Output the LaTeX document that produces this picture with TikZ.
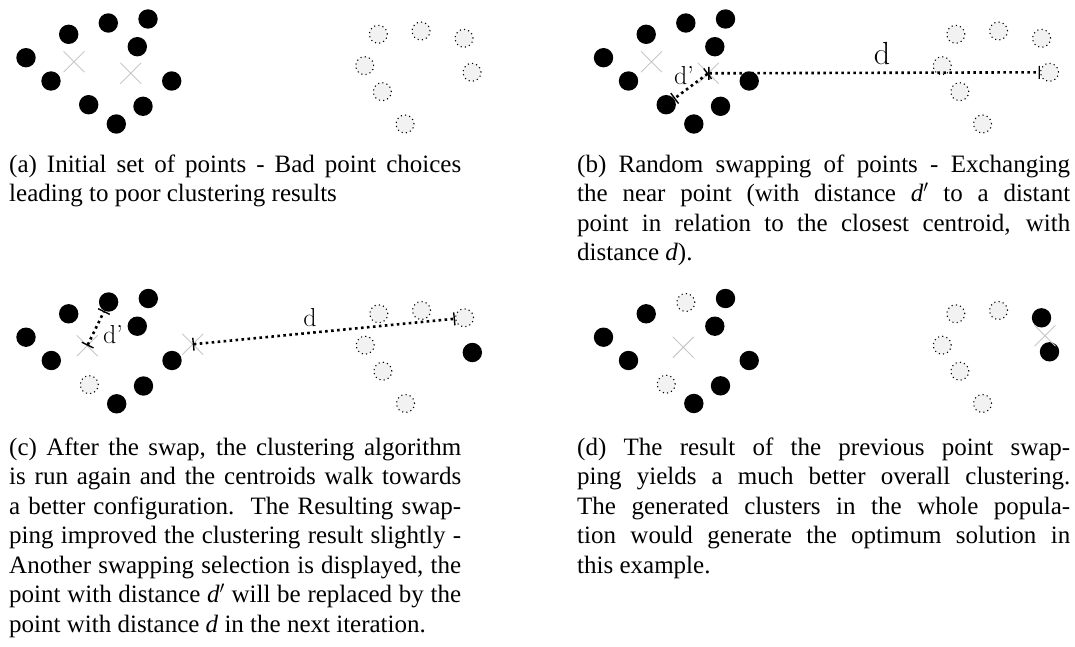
\documentclass[tikz,border=0pt]{standalone}
\usepackage{fontspec}
\newfontfamily\capfont{Liberation Serif}
\usetikzlibrary{arrows.meta,shapes.misc}
\begin{document}
\begin{tikzpicture}[x=1pt,y=-1pt,
  bdot/.style={circle,fill=black,minimum size=19.4pt,inner sep=0pt},
  gdot/.style={circle,fill=black!5,draw=black,line width=1.1pt,dash pattern=on 1.1pt off 3.2pt,minimum size=18pt,inner sep=0pt},
  cent/.style={cross out,draw=black!22,line width=0.9pt,minimum size=20pt,inner sep=0pt},
  dist/.style={line width=2.6pt,dash pattern=on 2.6pt off 3.4pt,{Bar[width=13pt,line width=1.4pt]}-{Bar[width=13pt,line width=1.4pt]}},
  lbl/.style={font=\fontsize{26}{26}\selectfont,inner sep=0pt},
  capbox/.style={anchor=base west,inner sep=0pt,align=justify,font=\capfont\fontsize{25}{29.5}\selectfont}
]
\useasboundingbox (0,0) rectangle (1075,647);
% ---------- panel (a)
\node[bdot] (a1) at (26,57.7) {};
\node[bdot] (a2) at (68.7,34.3) {};
\node[bdot] (a3) at (108.3,23) {};
\node[bdot] (a4) at (148,19) {};
\node[bdot] (a5) at (137.3,46.7) {};
\node[bdot] (a6) at (51,81) {};
\node[bdot] (a7) at (171.7,81) {};
\node[bdot] (a8) at (88.7,104.7) {};
\node[bdot] (a9) at (143,106.3) {};
\node[bdot] (a10) at (116.3,124) {};
\node[gdot] (ar1) at (378.3,34.3) {};
\node[gdot] (ar2) at (421,31) {};
\node[gdot] (ar3) at (464,38.3) {};
\node[gdot] (ar4) at (364.7,65.7) {};
\node[gdot] (ar5) at (472,72.3) {};
\node[gdot] (ar6) at (382.3,91.7) {};
\node[gdot] (ar7) at (405,124) {};
\node[cent] (ac1) at (74,61.7) {};
\node[cent] (ac2) at (130.7,73.3) {};
% ---------- panel (b)
\node[bdot] (b1) at (603.5,57.7) {};
\node[bdot] (b2) at (646.2,34.3) {};
\node[bdot] (b3) at (685.8,23) {};
\node[bdot] (b4) at (725.5,19) {};
\node[bdot] (b5) at (714.8,46.7) {};
\node[bdot] (b6) at (628.5,81) {};
\node[bdot] (b7) at (749.2,81) {};
\node[bdot] (b8) at (666.2,104.7) {};
\node[bdot] (b9) at (720.5,106.3) {};
\node[bdot] (b10) at (693.8,124) {};
\node[gdot] (br1) at (955.8,34.3) {};
\node[gdot] (br2) at (998.5,31) {};
\node[gdot] (br3) at (1041.5,38.3) {};
\node[gdot] (br4) at (942.2,65.7) {};
\node[gdot] (br5) at (1049.5,72.3) {};
\node[gdot] (br6) at (959.8,91.7) {};
\node[gdot] (br7) at (982.5,124) {};
\node[cent] (bc1) at (651.5,61.7) {};
\node[cent] (bc2) at (708.2,73.3) {};
\draw[dist] (bc2.center) -- (b8);
\draw[dist] (bc2.center) -- (br5);
\node[lbl] (bdp) at (684,76) {d'};
\node[lbl,font=\fontsize{32}{32}\selectfont] (bd) at (882,53.5) {d};
% ---------- panel (c)
\node[bdot] (c1) at (26,337.2) {};
\node[bdot] (c2) at (68.7,313.8) {};
\node[bdot] (c3) at (108.6,302) {};
\node[bdot] (c4) at (148.3,298.5) {};
\node[bdot] (c5) at (137.3,326.2) {};
\node[bdot] (c6) at (51.3,360.5) {};
\node[bdot] (c7) at (172,360.5) {};
\node[gdot] (c8) at (89.3,384.7) {};
\node[bdot] (c9) at (143.5,386) {};
\node[bdot] (c10) at (116.7,403.8) {};
\node[gdot] (cr1) at (378.8,313.8) {};
\node[gdot] (cr2) at (421.5,310.5) {};
\node[gdot] (cr3) at (464.5,317.8) {};
\node[gdot] (cr4) at (365.2,345.2) {};
\node[bdot] (cr5) at (472.3,352.5) {};
\node[gdot] (cr6) at (382.8,371.2) {};
\node[gdot] (cr7) at (405.5,403.5) {};
\node[cent] (cc1) at (87.3,345.7) {};
\node[cent] (cc2) at (192.7,344.3) {};
\draw[dist] (cc1.center) -- (c3);
\draw[dist] (cc2.center) -- (cr3);
\node[lbl] (cdp) at (113,335) {d'};
\node[lbl] (cd) at (310,317.5) {d};
% ---------- panel (d)
\node[bdot] (d1) at (603.5,337.2) {};
\node[bdot] (d2) at (646.2,313.8) {};
\node[gdot] (d3) at (685.8,302.5) {};
\node[bdot] (d4) at (725.5,298.5) {};
\node[bdot] (d5) at (714.8,326.2) {};
\node[bdot] (d6) at (628.5,360.5) {};
\node[bdot] (d7) at (749.2,360.5) {};
\node[gdot] (d8) at (666.2,384.2) {};
\node[bdot] (d9) at (720.5,385.8) {};
\node[bdot] (d10) at (693.8,403.5) {};
\node[gdot] (dr1) at (955.8,313.8) {};
\node[gdot] (dr2) at (998.5,310.5) {};
\node[bdot] (dr3) at (1041.5,317.8) {};
\node[gdot] (dr4) at (942.2,345.2) {};
\node[bdot] (dr5) at (1049.5,351.8) {};
\node[gdot] (dr6) at (959.8,371.2) {};
\node[gdot] (dr7) at (982.5,403.5) {};
\node[cent] (dc1) at (683.3,347.3) {};
\node[cent] (dc2) at (1045,335.7) {};
% ---------- captions
\node[capbox,text width=452pt] (capa) at (9,172) {(a) Initial set of points - Bad point choices\linebreak leading to poor clustering results};
\node[capbox,text width=493pt] (capb) at (577,172) {(b) Random swapping of points - Exchanging\linebreak the near point (with distance \textit{d}$'$ to a distant\linebreak point in relation to the closest centroid, with\linebreak distance \textit{d}).};
\node[capbox,text width=452pt] (capc) at (9,455) {(c) After the swap, the clustering algorithm\linebreak is run again and the centroids walk towards\linebreak a better configuration.\ \ The Resulting swap-\linebreak ping improved the clustering result slightly -\linebreak Another swapping selection is displayed, the\linebreak point with distance \textit{d}$'$ will be replaced by the\linebreak point with distance \textit{d} in the next iteration.};
\node[capbox,text width=493pt] (capd) at (577,455) {(d) The result of the previous point swap-\linebreak ping yields a much better overall clustering.\linebreak The generated clusters in the whole popula-\linebreak tion would generate the optimum solution in\linebreak this example.};
\end{tikzpicture}
\end{document}
